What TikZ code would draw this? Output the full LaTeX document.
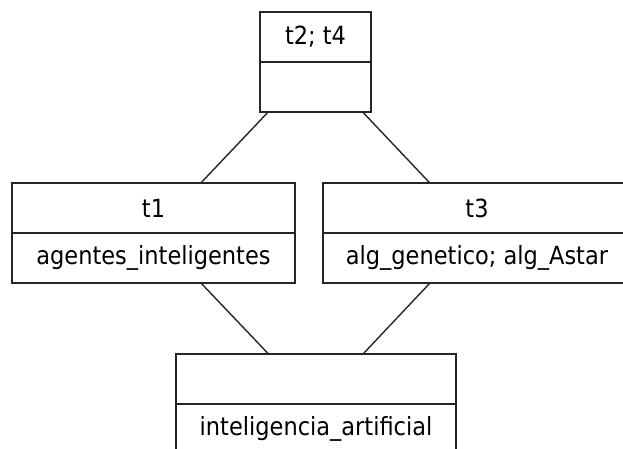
\documentclass[tikz,border=0pt]{standalone}
\usepackage{fontspec}
\setmainfont{DejaVu Sans Condensed}
\begin{document}
\begin{tikzpicture}[x=1pt,y=-1pt,
  box/.style={draw=black!85, line width=1.6pt, minimum width=#1, minimum height=100pt, inner sep=0pt, outer sep=0pt},
  lbl/.style={font=\fontsize{25}{30}\selectfont, inner sep=0pt},
  conn/.style={draw=black!85, line width=1.4pt}]
\useasboundingbox (0,0) rectangle (623,448);
\clip (0,0) rectangle (623,448);
\node[box=111pt] (top) at (315.5,62) {};
\node[box=283pt] (t1) at (153.5,233) {};
\node[box=308pt] (t3) at (477,233) {};
\node[box=280pt] (bot) at (316,404) {};
\foreach \n in {top,t1,t3,bot} \draw[conn, line width=1.6pt] (\n.west) -- (\n.east);
\node[lbl] (ltop) at (315.5,37) {t2; t4};
\node[lbl] (lt1) at (153.5,208) {t1};
\node[lbl] (lt1b) at (153.5,258) {agentes\_inteligentes};
\node[lbl] (lt3) at (477,208) {t3};
\node[lbl] (lt3b) at (477,258) {alg\_genetico; alg\_Astar};
\node[lbl] (lbot) at (316,429) {inteligencia\_artificial};
\draw[conn] (top) -- (t1);
\draw[conn] (top) -- (t3);
\draw[conn] (t1) -- (bot);
\draw[conn] (t3) -- (bot);
\end{tikzpicture}
\end{document}
